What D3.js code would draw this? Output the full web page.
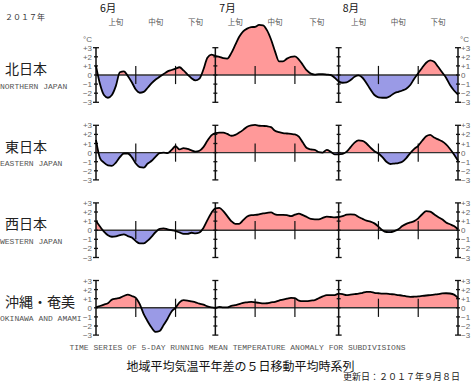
<!DOCTYPE html>
<html><head><meta charset="utf-8">
<script src="https://cdn.jsdelivr.net/npm/d3@7"></script>
<style>
html,body{margin:0;padding:0;background:#fff;}
svg{display:block;}
</style></head>
<body>
<svg id="chart" width="471" height="382"></svg>
<script>
// ---- data ----
const yearLabel = "２０１７年";
const monthLabels = ["6月", "7月", "8月"];
const decadeLabels = ["上旬", "中旬", "下旬"];
const tickLabels = ["+3", "+2", "+1", "0", "−1", "−2", "−3"];
const tickValues = [3, 2, 1, 0, -1, -2, -3];
const regionNames = ["北日本", "東日本", "西日本", "沖縄・奄美"];
const regionNamesEn = ["NORTHERN JAPAN", "EASTERN JAPAN", "WESTERN JAPAN", "OKINAWA AND AMAMI"];
const titleEn = "TIME SERIES OF 5-DAY RUNNING MEAN TEMPERATURE ANOMALY FOR SUBDIVISIONS";
const titleJa = "地域平均気温平年差の５日移動平均時系列";
const updated = "更新日：２０１７年９月８日";

// daily values, 2017-06-01 .. 2017-08-31
const north = [1.0,-1.0,-2.2,-2.5,-2.2,-1.2,0.3,0.4,-0.1,-0.8,
 -1.6,-1.95,-1.85,-1.4,-0.9,-0.5,-0.2,0.1,0.4,0.55,
 0.7,0.85,0.5,0.05,-0.35,-0.6,-0.4,0.6,1.9,2.25,
 2.1,2.0,1.85,1.8,2.4,3.3,4.2,4.8,5.1,5.25,
 5.3,5.5,5.45,4.9,3.9,2.6,1.5,1.5,1.8,2.0,
 2.05,1.7,1.1,0.5,0.15,0.05,0.1,0.1,0.05,0.0,
 -0.3,-0.7,-0.85,-0.8,-0.55,-0.2,-0.05,-0.3,-0.9,-1.6,
 -2.2,-2.45,-2.5,-2.5,-2.3,-2.0,-1.85,-1.7,-1.5,-1.1,
 -0.4,0.2,0.8,1.35,1.6,1.45,0.9,0.3,-0.3,-1.1,
 -1.7,-2.15];
const east = [1.4,-0.6,-1.1,-1.4,-1.45,-1.1,-0.5,-0.1,-0.1,-0.5,
 -1.2,-1.6,-1.65,-1.2,-0.9,-0.45,-0.05,0.0,-0.05,0.3,
 0.7,0.35,0.5,0.4,0.25,0.1,0.2,0.6,1.3,1.9,
 2.15,2.2,2.2,2.05,1.85,1.95,2.2,2.5,2.85,3.0,
 3.05,2.95,2.93,2.9,2.8,2.4,2.25,2.15,2.1,2.05,
 2.0,1.75,1.1,0.5,0.35,0.3,0.05,0.0,0.3,0.1,
 -0.2,-0.2,-0.15,0.1,0.6,1.1,1.35,1.3,1.0,0.55,
 0.15,-0.1,-0.5,-1.0,-1.25,-1.2,-1.15,-1.0,-0.6,-0.05,
 0.4,0.75,1.3,1.8,1.95,1.65,1.45,1.25,0.9,0.4,
 -0.2,-0.9];
const west = [1.0,0.4,-0.15,-0.55,-0.72,-0.68,-0.55,-0.45,-0.65,-0.8,
 -1.2,-1.45,-1.45,-1.15,-0.7,-0.2,0.15,0.2,0.1,0.0,
 -0.1,-0.25,-0.4,-0.4,-0.28,-0.35,-0.25,0.25,1.1,1.9,
 2.4,2.45,2.1,1.55,1.0,0.7,0.7,1.1,1.5,1.65,
 1.68,1.75,1.85,1.9,1.95,1.75,1.68,1.68,1.65,1.55,
 1.7,1.82,1.65,1.45,1.25,1.2,1.2,1.35,1.5,1.45,
 1.4,1.45,1.55,1.7,1.75,1.7,1.45,1.25,1.05,0.95,
 0.75,0.4,0.0,-0.2,-0.22,-0.1,0.1,0.45,0.7,0.85,
 1.0,1.3,1.75,2.1,2.05,1.75,1.45,1.2,0.85,0.65,
 0.45,0.1];
const okinawa = [0.05,0.2,0.35,0.5,0.9,1.0,1.1,1.3,1.45,1.3,
 1.1,0.4,-0.7,-1.5,-2.2,-2.65,-2.55,-1.9,-1.2,-0.4,
 0.0,0.6,0.84,0.8,0.7,0.6,0.45,0.35,0.15,0.05,
 0.0,0.1,0.05,0.05,0.2,0.3,0.4,0.55,0.6,0.65,
 0.6,0.55,0.48,0.5,0.6,0.65,0.8,0.9,1.0,1.1,
 1.05,0.8,0.73,0.73,0.8,0.85,1.05,1.25,1.4,1.4,
 1.4,1.55,1.5,1.4,1.45,1.5,1.55,1.65,1.75,1.75,
 1.65,1.6,1.55,1.55,1.5,1.47,1.4,1.35,1.25,1.2,
 1.22,1.25,1.3,1.35,1.4,1.45,1.5,1.58,1.6,1.57,
 1.45,1.1];
const seriesList = [north, east, west, okinawa];

// ---- layout ----
const svg = d3.select("#chart");
const start = new Date(2017, 5, 1), end = new Date(2017, 7, 31);
const x = d3.scaleTime().domain([start, end]).range([96, 458]);
const monthStarts = [new Date(2017,5,1), new Date(2017,6,1), new Date(2017,7,1)];
const axisDates = [new Date(2017,5,1), new Date(2017,6,1), new Date(2017,7,1), end];
const decadeBounds = [];
monthStarts.forEach((m, i) => {
  const next = i < 2 ? monthStarts[i+1] : end;
  decadeBounds.push([m, new Date(m.getFullYear(), m.getMonth(), 11), new Date(m.getFullYear(), m.getMonth(), 21), next]);
});
const jp = "'Noto Sans CJK JP', sans-serif";
const mono = "'Liberation Mono', 'DejaVu Sans Mono', monospace";
const sans = "'Liberation Sans', Arial, sans-serif";

// header
svg.append("text").attr("x", 5).attr("y", 20).attr("font-family", jp).attr("font-size", 8)
  .attr("fill", "#333").text(yearLabel);
monthLabels.forEach((t, i) => {
  svg.append("text").attr("x", x(monthStarts[i]) + 4).attr("y", 12.2).attr("font-family", jp)
    .attr("font-size", 10.5).attr("fill", "#111").text(t);
});
decadeBounds.forEach(b => {
  for (let k = 0; k < 3; k++) {
    const cx = (x(b[k]) + x(b[k+1])) / 2;
    svg.append("text").attr("x", cx).attr("y", 24.5).attr("text-anchor", "middle")
      .attr("font-family", jp).attr("font-size", 7.5).attr("fill", "#555").text(decadeLabels[k]);
  }
});

const dayDates = north.map((_, i) => d3.timeDay.offset(start, i));
const pxPerDeg = 9.1;
const zeroTop = 75, panelGap = 77.6;

seriesList.forEach((vals, p) => {
  const z = zeroTop + p * panelGap;
  const y = d3.scaleLinear().domain([-3, 3]).range([z + 3*pxPerDeg, z - 3*pxPerDeg]);
  const data = vals.map((v, i) => ({d: dayDates[i], v}));
  const g = svg.append("g");
  const idA = "ca" + p, idB = "cb" + p;
  const defs = svg.append("defs");
  defs.append("clipPath").attr("id", idA).append("rect")
    .attr("x", 0).attr("y", 0).attr("width", 471).attr("height", y(0));
  defs.append("clipPath").attr("id", idB).append("rect")
    .attr("x", 0).attr("y", y(0)).attr("width", 471).attr("height", 382 - y(0));
  const area = d3.area().x(d => x(d.d)).y0(y(0)).y1(d => y(d.v)).curve(d3.curveMonotoneX);
  const line = d3.line().x(d => x(d.d)).y(d => y(d.v)).curve(d3.curveMonotoneX);
  g.append("path").datum(data).attr("d", area).attr("fill", "#ff9999").attr("clip-path", `url(#${idA})`);
  g.append("path").datum(data).attr("d", area).attr("fill", "#9a9ae6").attr("clip-path", `url(#${idB})`);
  g.append("line").attr("x1", x(start)).attr("x2", x(end)).attr("y1", y(0)).attr("y2", y(0))
    .attr("stroke", "#333").attr("stroke-width", 1.4);
  decadeBounds.forEach(b => {
    [b[1], b[2]].forEach(dd => {
      g.append("line").attr("x1", x(dd)).attr("x2", x(dd)).attr("y1", y(1)).attr("y2", y(-1))
        .attr("stroke", "#111").attr("stroke-width", 1.2);
    });
  });
  axisDates.forEach(dd => {
    const ax = x(dd);
    g.append("line").attr("x1", ax).attr("x2", ax).attr("y1", y(3)).attr("y2", y(-3))
      .attr("stroke", "#111").attr("stroke-width", 1.5);
    tickValues.forEach(tv => {
      const w = Math.abs(tv) === 3 ? 3 : 2;
      g.append("line").attr("x1", ax - w).attr("x2", ax + w).attr("y1", y(tv)).attr("y2", y(tv))
        .attr("stroke", "#111").attr("stroke-width", 1.3);
    });
  });
  g.append("path").datum(data).attr("d", line).attr("fill", "none").attr("stroke", "#000")
    .attr("stroke-width", 1.8).attr("stroke-linejoin", "round");
  tickValues.forEach((tv, k) => {
    g.append("text").attr("x", 92).attr("y", y(tv) + 3).attr("text-anchor", "end")
      .attr("font-family", sans).attr("font-size", 8).attr("fill", "#666").text(tickLabels[k]);
    g.append("text").attr("x", 461).attr("y", y(tv) + 3).attr("text-anchor", "start")
      .attr("font-family", sans).attr("font-size", 8).attr("fill", "#666").text(tickLabels[k]);
  });
  if (p === 0) {
    g.append("text").attr("x", 92).attr("y", y(3) - 6).attr("text-anchor", "end")
      .attr("font-family", sans).attr("font-size", 8).attr("fill", "#666").text("°C");
    g.append("text").attr("x", 460).attr("y", y(3) - 6).attr("text-anchor", "start")
      .attr("font-family", sans).attr("font-size", 8).attr("fill", "#666").text("°C");
  }
  svg.append("text").attr("x", 5).attr("y", z - 1).attr("font-family", jp).attr("font-size", 14)
    .attr("fill", "#222").text(regionNames[p]);
  svg.append("text").attr("x", 0).attr("y", z + 13.5).attr("font-family", mono).attr("font-size", 8)
    .attr("fill", "#555").text(regionNamesEn[p]);
});

// footer
svg.append("text").attr("x", 237.5).attr("y", 350).attr("text-anchor", "middle")
  .attr("font-family", mono).attr("font-size", 8).attr("fill", "#555").text(titleEn);
svg.append("text").attr("x", 240.5).attr("y", 371).attr("text-anchor", "middle")
  .attr("font-family", jp).attr("font-size", 12).attr("fill", "#111").text(titleJa);
svg.append("text").attr("x", 460).attr("y", 380).attr("text-anchor", "end")
  .attr("font-family", jp).attr("font-size", 9).attr("fill", "#222").text(updated);
</script>
</body></html>
